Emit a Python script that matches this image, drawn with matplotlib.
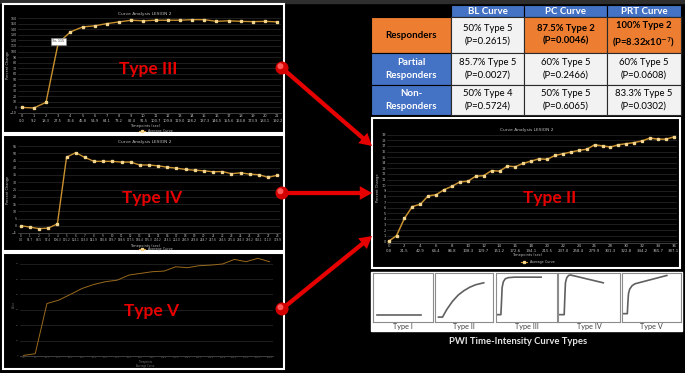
import numpy as np
import matplotlib.pyplot as plt
from matplotlib.patches import Rectangle, Circle, FancyArrowPatch

W, H = 685, 373

# ---- data ----
t3_times = ["0.0", "9.2", "18.3", "27.5", "36.6", "45.8", "54.9", "64.1", "73.2", "82.4", "91.5",
            "100.7", "109.8", "119.0", "128.2", "137.3", "146.5", "155.6", "164.8", "173.9", "183.1", "192.2"]
t3_values = [0, -1, 9, 115, 135, 144, 146, 150, 153, 156, 155, 156, 156, 156, 157, 157,
             154, 155, 154, 153.5, 154, 153]

t4_times = ["0.0", "61.7", "88.5", "97.4", "106.3", "115.2", "124.1", "133.0", "141.9", "150.8",
            "159.7", "168.6", "177.5", "186.4", "195.3", "204.2", "213.1", "222.0", "230.9", "239.8",
            "248.7", "257.6", "266.5", "275.4", "284.3", "293.2", "302.1", "311.0", "319.9"]
t4_values = [0, -0.9, -2.0, -1.6, 1.3, 47.3, 50.4, 47.1, 44.4, 44.4, 44.4, 43.9, 43.9, 41.9, 41.9,
             41.3, 40.4, 39.7, 38.8, 38.3, 37.9, 37.2, 37.4, 35.9, 36.5, 35.6, 35.2, 33.4, 34.8]

t5_times = ["0.0", "9.0", "18.1", "27.1", "36.2", "45.2", "54.3", "63.3", "72.4", "81.4", "90.5",
            "99.5", "108.6", "117.6", "126.7", "135.7", "144.8", "153.8", "162.9", "171.9", "181.0", "190.0"]
t5_values = [0.4, 1.5, 34.1, 36.3, 40.0, 43.9, 46.5, 48.3, 49.3, 52.6, 53.7, 54.8, 55.2, 58.0,
             57.4, 58.7, 59.1, 59.8, 62.8, 61.3, 63.5, 61.3]

t2_values = [0, 1, 4.1, 6.2, 6.6, 8.1, 8.3, 9.2, 9.8, 10.6, 10.7, 11.6, 11.7, 12.6, 12.5, 13.4,
             13.3, 13.9, 14.3, 14.7, 14.6, 15.3, 15.6, 15.9, 16.2, 16.4, 17.2, 17.0, 16.8, 17.2,
             17.4, 17.6, 17.9, 18.4, 18.2, 18.2, 18.6]
t2_tick_idx = [0, 2, 4, 6, 8, 10, 12, 14, 16, 18, 20, 22, 24, 26, 28, 30, 32, 34, 36]
t2_tick_times = ["0.0", "21.5", "42.9", "64.4", "86.8", "108.3", "129.7", "151.2", "172.6", "194.1",
                 "215.5", "237.0", "258.4", "279.9", "301.3", "322.8", "344.2", "365.7", "387.1"]

col_heads = ["BL Curve", "PC Curve", "PRT Curve"]
row_heads = ["Responders", "Partial\nResponders", "Non-\nResponders"]
cells = [["50% Type 5\n(P=0.2615)", "87.5% Type 2\n(P=0.0046)", "100% Type 2\n(P=8.32x10$^{-7}$)"],
         ["85.7% Type 5\n(P=0.0027)", "60% Type 5\n(P=0.2466)", "60% Type 5\n(P=0.0608)"],
         ["50% Type 4\n(P=0.5724)", "50% Type 5\n(P=0.6065)", "83.3% Type 5\n(P=0.0302)"]]

# schematic curve types (normalised box units)
types = ["Type I", "Type II", "Type III", "Type IV", "Type V"]
shape_x = [[0.06, 0.8],
           [0.06, 0.13, 0.2, 0.3, 0.4, 0.5, 0.6, 0.7, 0.84],
           [0.03, 0.08, 0.09, 0.1, 0.12, 0.15, 0.2, 0.3, 0.74],
           [0.03, 0.1, 0.11, 0.12, 0.14, 0.17, 0.2, 0.73],
           [0.03, 0.09, 0.1, 0.11, 0.13, 0.17, 0.22, 0.76]]
shape_y = [[0.15, 0.15],
           [0.1, 0.1, 0.25, 0.42, 0.55, 0.64, 0.71, 0.76, 0.8],
           [0.15, 0.15, 0.4, 0.7, 0.82, 0.88, 0.905, 0.915, 0.915],
           [0.15, 0.15, 0.5, 0.8, 0.9, 0.95, 0.96, 0.8],
           [0.17, 0.17, 0.4, 0.58, 0.67, 0.74, 0.78, 0.95]]

LINE = '#C8902E'
MARK = '#F4D58D'
TXT = '#bfbfbf'
RED = '#e60000'
BLUE = '#4472C4'
ORANGE = '#ED7D31'
LGRAY = '#F2F2F2'


def px(x0, y0, x1, y1):
    return [x0 / W, 1 - y1 / H, (x1 - x0) / W, (y1 - y0) / H]


fig = plt.figure(figsize=(W / 100, H / 100), dpi=100, facecolor='black')


def chart(rect, values, ylim, yticks, markers=True, lw=1.0):
    ax = fig.add_axes(px(*rect))
    ax.set_facecolor('black')
    x = np.arange(len(values))
    if markers:
        ax.plot(x, values, color=LINE, lw=lw, marker='s', ms=1.6, mfc=MARK, mec=MARK, zorder=3)
    else:
        ax.plot(x, values, color='#9a6a1c', lw=lw, zorder=3)
    ax.set_xlim(-0.3, len(values) - 0.7)
    ax.set_ylim(*ylim)
    ax.set_yticks(yticks)
    ax.grid(axis='y', color='#2b2b2b', lw=0.5)
    ax.set_axisbelow(True)
    for s in ['top', 'right', 'left']:
        ax.spines[s].set_visible(False)
    ax.spines['bottom'].set_color('#555555')
    ax.spines['bottom'].set_linewidth(0.5)
    ax.tick_params(length=0, labelsize=2.6, colors=TXT, pad=1)
    return ax


# Type III chart
ax3 = chart((18, 18, 281, 113), t3_values, (-10, 160), np.arange(-10, 161, 10))
ax3.set_xticks(np.arange(len(t3_times)))
ax3.set_xticklabels([f"{i}\n{t}" for i, t in enumerate(t3_times)])
ax3.tick_params(axis='y', labelsize=2.3)
ax3.text(3.0, 118, "3x, 115", fontsize=2.3, color='#333333', ha='center', va='center',
         bbox=dict(boxstyle='square,pad=0.4', fc='white', ec='#888888', lw=0.4), zorder=5)

# Type IV chart
ax4 = chart((18, 146, 280, 233), t4_values, (-5, 55), np.arange(-5, 56, 5))
ax4.set_xticks(np.arange(len(t4_times)))
ax4.set_xticklabels([f"{i}\n{t}" for i, t in enumerate(t4_times)])
ax4.tick_params(axis='x', labelsize=2.0, pad=0.6)
ax4.tick_params(axis='y', labelsize=2.3)

# Type V chart
ax5 = chart((20, 256, 273, 356), t5_values, (0, 65), np.arange(0, 61, 10), markers=False, lw=0.7)
ax5.set_xticks(np.arange(len(t5_times)))
ax5.set_xticklabels(t5_times)
ax5.tick_params(labelsize=1.6, colors='#666666')

# Type II chart
ax2 = chart((387, 133, 677, 243), t2_values, (-0.3, 19.3), np.arange(0, 20, 1), lw=1.1)
ax2.set_xlim(-0.2, 36.4)
ax2.set_xticks(t2_tick_idx)
ax2.set_xticklabels([f"{i}\n{t}" for i, t in zip(t2_tick_idx, t2_tick_times)])
ax2.tick_params(labelsize=2.8, pad=0.8)
ax2.tick_params(axis='y', labelsize=2.5)

# curve type schematic panel
box_x = [(373, 433), (435, 493), (496, 557), (558, 620), (622, 681)]
for (x0, x1), sx, sy in zip(box_x, shape_x, shape_y):
    a = fig.add_axes(px(x0, 273, x1, 322))
    a.set_facecolor('white')
    a.plot(sx, sy, color='#606060', lw=1.2, solid_joinstyle='round')
    a.set_xlim(0, 1)
    a.set_ylim(0, 1)
    a.set_xticks([])
    a.set_yticks([])
    for s in a.spines.values():
        s.set_color('#8c8c8c')
        s.set_linewidth(0.8)

# background layer in pixel coordinates
ov = fig.add_axes([0, 0, 1, 1], zorder=-1)
ov.set_xlim(0, W)
ov.set_ylim(H, 0)
ov.axis('off')
ov.add_patch(Rectangle((0, 0), W, 3, color='#2e2e2e'))
ov.add_patch(Rectangle((371, 272), 311, 59, color='white'))

# foreground layer in pixel coordinates
top = fig.add_axes([0, 0, 1, 1], zorder=10)
top.set_xlim(0, W)
top.set_ylim(H, 0)
top.axis('off')
top.patch.set_alpha(0)

# frames
for y0, y1 in [(4, 133), (135, 251), (253, 369)]:
    top.add_patch(Rectangle((3, y0), 281, y1 - y0, fill=False, ec='white', lw=1.5))
top.add_patch(Rectangle((372, 118), 308, 150, fill=False, ec='white', lw=1.5))

# chart titles / axis titles / legends
small = dict(color=TXT, ha='center', va='center')
for cx, cy, xt, lg in [(145, 14, 126, 131), (145, 142, 245.5, 249.3), (527, 130, 255, 262)]:
    top.text(cx, cy, "Curve Analysis LESION 2", fontsize=3.2, **small)
    top.text(cx, xt, "Timepoints (sec)", fontsize=2.6, **small)
    top.text(cx + 3, lg, "Average Curve", fontsize=2.4, ha='left', va='center', color=TXT)
    top.plot([cx - 6, cx], [lg, lg], color=LINE, lw=0.8)
    top.plot([cx - 3], [lg], marker='s', ms=1.4, color=MARK)
top.text(8.5, 65, "Percent Change", fontsize=2.5, rotation=90, **small)
top.text(8.5, 190, "Percent Change", fontsize=2.5, rotation=90, **small)
top.text(378, 188, "Percent Change", fontsize=2.6, rotation=90, **small)
top.text(14, 305, "Value", fontsize=1.8, rotation=90, color='#777777', ha='center', va='center')
top.text(145, 362, "Timepoints", fontsize=1.8, color='#777777', ha='center', va='center')
top.text(145, 365.5, "Average Curve", fontsize=1.8, color='#777777', ha='center', va='center')

# big labels
big = dict(color=RED, fontsize=12.5, fontweight='bold', family=['Lato', 'DejaVu Sans'],
           ha='center', va='center')
top.text(148, 69, "Type III", **big)
top.text(152, 198, "Type IV", **big)
top.text(152, 311, "Type V", **big)
top.text(550, 198, "Type II", **big)

# arrows + pins
starts = [(282, 68), (282, 193), (282, 309)]
ends = [(372, 146), (372, 193), (372, 236)]
for (sx, sy), (ex, ey) in zip(starts, ends):
    top.add_patch(FancyArrowPatch((sx, sy), (ex, ey),
                                  arrowstyle='simple,head_width=0.9,head_length=0.8,tail_width=0.28',
                                  mutation_scale=11, color=RED, lw=0, shrinkA=0, shrinkB=0))
    top.add_patch(Circle((sx, sy), 5.8, color='#d40000'))
    top.add_patch(Circle((sx - 1.6, sy - 1.8), 2.3, color='#ff5a5a'))

# table
col_x = [371, 451, 524, 607, 681]
row_y = [5, 17, 53, 85, 115]
tf = ['Lato', 'DejaVu Sans']
for j, h in enumerate(col_heads):
    top.add_patch(Rectangle((col_x[j + 1], row_y[0]), col_x[j + 2] - col_x[j + 1], row_y[1] - row_y[0],
                            fc=BLUE, ec='black', lw=0.8))
    top.text((col_x[j + 1] + col_x[j + 2]) / 2, (row_y[0] + row_y[1]) / 2 + 0.5, h, color='white',
             fontsize=7, fontweight='bold', family=tf, ha='center', va='center')
for i, r in enumerate(row_heads):
    y0, y1 = row_y[i + 1], row_y[i + 2]
    fc = ORANGE if i == 0 else BLUE
    tc = 'black' if i == 0 else 'white'
    top.add_patch(Rectangle((col_x[0], y0), col_x[1] - col_x[0], y1 - y0, fc=fc, ec='black', lw=0.8))
    top.text((col_x[0] + col_x[1]) / 2, (y0 + y1) / 2, r, color=tc, fontsize=7, fontweight='bold',
             family=tf, ha='center', va='center', linespacing=1.45)
    for j in range(3):
        hot = (i == 0 and j > 0)
        top.add_patch(Rectangle((col_x[j + 1], y0), col_x[j + 2] - col_x[j + 1], y1 - y0,
                                fc=ORANGE if hot else LGRAY, ec='#2a2a2a', lw=0.8))
        top.text((col_x[j + 1] + col_x[j + 2]) / 2, (y0 + y1) / 2, cells[i][j], color='black',
                 fontsize=6.8, fontweight='bold' if hot else 'normal', family=tf,
                 ha='center', va='center', linespacing=1.45)

# schematic labels + caption
for (x0, x1), name in zip(box_x, types):
    top.text((x0 + x1) / 2, 327, name, fontsize=5.2, color='#404040', family=tf, ha='center', va='center')
top.text(518, 342, "PWI Time-Intensity Curve Types", fontsize=6.8, color='#e6e6e6', fontweight='bold',
         family=tf, ha='center', va='center')

fig.savefig('out.png', dpi=100, facecolor='black')
